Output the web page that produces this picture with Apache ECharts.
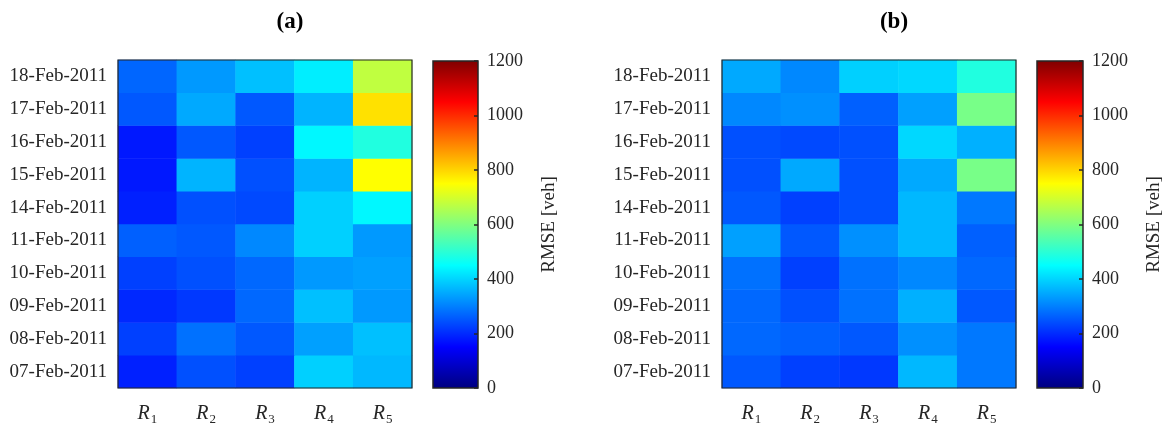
<!DOCTYPE html>
<html><head><meta charset="utf-8">
<script src="https://cdn.jsdelivr.net/npm/echarts@6/dist/echarts.min.js"></script>
<style>html,body{margin:0;padding:0;background:#fff}#c{width:1168px;height:428px}</style>
</head><body><div id="c"></div>
<script>
const dates = ['07-Feb-2011','08-Feb-2011','09-Feb-2011','10-Feb-2011','11-Feb-2011','14-Feb-2011','15-Feb-2011','16-Feb-2011','17-Feb-2011','18-Feb-2011'];
const routes = ['R1','R2','R3','R4','R5'];
const colorRange = [0,1200];
// RMSE [veh], rows follow `dates`, columns follow `routes`
const rmseA = [
  [188,244,225,395,366],
  [225,282,253,338,376],
  [197,216,272,376,329],
  [225,244,272,329,338],
  [263,253,310,395,329],
  [188,244,235,395,442],
  [178,362,244,362,750],
  [178,253,225,442,487],
  [253,348,253,362,786],
  [270,330,376,430,675]
];
const rmseB = [
  [253,225,216,366,291],
  [272,263,253,319,291],
  [272,244,282,357,253],
  [282,225,282,310,272],
  [338,253,319,366,263],
  [253,225,244,366,291],
  [244,348,244,348,591],
  [244,235,244,404,357],
  [310,319,263,338,591],
  [348,310,395,404,487]
];
const panelTitles = ['(a)','(b)'];
const cbarName = 'RMSE [veh]';

const FONT = 'Liberation Serif';
const TXT = '#262626';
const jet = ['#000080','#0000FF','#0080FF','#00FFFF','#80FF80','#FFFF00','#FF8000','#FF0000','#800000'];

function toCells(m){
  const out=[];
  m.forEach((row,yi)=>row.forEach((v,xi)=>out.push([xi,yi,v])));
  return out;
}
const heatGrids = [{left:118,top:60,width:294,height:328},{left:722,top:60,width:294,height:328}];
const cbGrids = [{left:433,top:61,width:45,height:327},{left:1037,top:61,width:46,height:327}];
const titleX = [285,889];

const grid=[], xAxis=[], yAxis=[], series=[], title=[];
[rmseA,rmseB].forEach((m,i)=>{
  const g=heatGrids[i];
  grid.push(Object.assign({show:true,borderColor:'#262626',borderWidth:1.2,backgroundColor:'transparent',z:10},g));
  xAxis.push({type:'category',gridIndex:i,data:routes,axisLine:{show:false},axisTick:{show:false},splitLine:{show:false},
    axisLabel:{interval:0,margin:14,formatter:v=>'{r|R}{s|'+v.slice(1)+'}',
      rich:{r:{fontFamily:FONT,fontStyle:'italic',fontSize:20,color:TXT,lineHeight:24},
            s:{fontFamily:FONT,fontSize:13,color:TXT,lineHeight:24,padding:[12,0,0,1]}}}});
  yAxis.push({type:'category',gridIndex:i,data:dates,axisLine:{show:false},axisTick:{show:false},splitLine:{show:false},
    axisLabel:{interval:0,margin:11,fontFamily:FONT,fontSize:19,color:TXT}});
  series.push({type:'heatmap',xAxisIndex:i,yAxisIndex:i,data:toCells(m),itemStyle:{borderWidth:0},emphasis:{disabled:true}});
  title.push({text:panelTitles[i],left:titleX[i],top:6,textAlign:'center',
    textStyle:{fontFamily:FONT,fontWeight:'bold',fontSize:23,color:'#000'}});
});
const gradStops = jet.map((c,k)=>({offset:1-k/(jet.length-1),color:c})).reverse();
cbGrids.forEach((g,i)=>{
  const gi=2+i;
  grid.push(Object.assign({show:true,borderColor:'#262626',borderWidth:1.5,backgroundColor:'transparent',z:10},g));
  xAxis.push({type:'value',gridIndex:gi,show:false,min:0,max:1,axisLine:{onZero:false}});
  yAxis.push({type:'value',gridIndex:gi,position:'right',min:colorRange[0],max:colorRange[1],interval:200,z:10,
    axisLine:{show:false,onZero:false},splitLine:{show:false},
    axisTick:{show:true,inside:true,length:4,lineStyle:{color:'#262626',width:1.5}},
    axisLabel:{margin:9,fontFamily:FONT,fontSize:18,color:TXT,formatter:v=>String(v)},
    name:cbarName,nameLocation:'middle',nameGap:62,nameRotate:90,
    nameTextStyle:{fontFamily:FONT,fontSize:19,color:TXT}});
  series.push({type:'custom',xAxisIndex:gi,yAxisIndex:gi,data:[[0,colorRange[0],1,colorRange[1]]],silent:true,z:1,
    renderItem:(params,api)=>{
      const p0=api.coord([api.value(0),api.value(1)]);
      const p1=api.coord([api.value(2),api.value(3)]);
      return {type:'rect',shape:{x:p0[0],y:p1[1],width:p1[0]-p0[0],height:p0[1]-p1[1]},
        style:{fill:new echarts.graphic.LinearGradient(0,0,0,1,gradStops)}};
    }});
});
const visualMap=[{type:'continuous',show:false,seriesIndex:[0,1],min:colorRange[0],max:colorRange[1],inRange:{color:jet}}];

const chart = echarts.init(document.getElementById('c'),null,{renderer:'canvas'});
chart.setOption({animation:false,backgroundColor:'#fff',title,grid,xAxis,yAxis,series,visualMap});
</script></body></html>
